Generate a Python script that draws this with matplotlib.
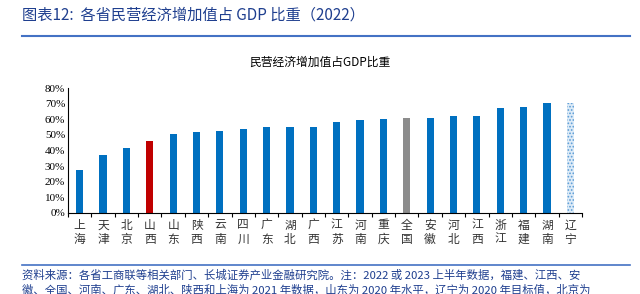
import matplotlib
import numpy as np

# import aliases
import matplotlib.pyplot as plt
from matplotlib.ticker import FixedLocator, PercentFormatter

plt.rcParams['font.family'] = ['Noto Sans CJK SC', 'DejaVu Sans']
plt.rcParams['hatch.linewidth'] = 0.8

provinces = ['上海', '天津', '北京', '山西', '山东', '陕西', '云南', '四川', '广东', '湖北', '广西',
             '江苏', '河南', '重庆', '全国', '安徽', '河北', '江西', '浙江', '福建', '湖南', '辽宁']
shares = [27.5, 37.0, 41.3, 46.3, 50.8, 51.6, 52.3, 53.6, 54.9, 54.9, 54.9,
          58.1, 59.4, 60.1, 60.5, 60.9, 61.8, 62.4, 67.3, 68.0, 70.1, 70.3]
highlight_red = ['山西']
highlight_gray = ['全国']
target_value = ['辽宁']

blue = '#0070C0'
header_blue = '#1F3F8F'

fig = plt.figure(figsize=(6.4, 2.94), dpi=100)
ax = fig.add_axes([68 / 640, 1 - 213 / 294, 514 / 640, 125 / 294])

x = np.arange(len(provinces))
for i, (name, v) in enumerate(zip(provinces, shares)):
    if name in highlight_red:
        ax.bar(i, v, width=0.31, color='#C00000')
    elif name in highlight_gray:
        ax.bar(i, v, width=0.31, color='#8C8C8C')
    elif name in target_value:
        ax.bar(i, v, width=0.31, facecolor='#DDEBF7', edgecolor='#5B9BD5',
               hatch='.....', linewidth=0)
    else:
        ax.bar(i, v, width=0.31, color=blue)

ax.set_xlim(-0.5, len(provinces) - 0.5)
ax.set_ylim(0, 80)
ax.set_yticks(np.arange(0, 81, 10))
ax.yaxis.set_major_formatter(PercentFormatter(decimals=0))
for lab in ax.get_yticklabels():
    lab.set_fontfamily('Liberation Serif')
    lab.set_fontsize(8)
ax.tick_params(axis='y', length=0, pad=2)

ax.set_xticks(x)
ax.set_xticklabels(['\n'.join(p) for p in provinces], fontsize=8.5, color='#333333',
                   linespacing=1.1)
ax.xaxis.set_minor_locator(FixedLocator(np.arange(-0.5, len(provinces), 1)))
ax.tick_params(axis='x', which='major', length=0, pad=4)
ax.tick_params(axis='x', which='minor', length=3, width=0.8, direction='out')

for side in ['top', 'right']:
    ax.spines[side].set_visible(False)
ax.spines['left'].set_linewidth(0.8)
ax.spines['bottom'].set_linewidth(0.8)

fig.text(0.5, 1 - 62 / 294, '民营经济增加值占GDP比重', ha='center', va='center', fontsize=8.5)

# header and footer
fig.text(22 / 640, 1 - 15 / 294, '图表12:  各省民营经济增加值占 GDP 比重（2022）',
         ha='left', va='center', fontsize=11, color=header_blue)
fig.add_artist(plt.Line2D([22 / 640, 630 / 640], [1 - 36 / 294] * 2, color='#4472C4', lw=1.5))
fig.add_artist(plt.Line2D([22 / 640, 630 / 640], [1 - 265 / 294] * 2, color='#4472C4', lw=1.2))
fig.text(22 / 640, 1 - 275 / 294,
         '资料来源：各省工商联等相关部门、长城证券产业金融研究院。注：2022 或 2023 上半年数据，福建、江西、安',
         ha='left', va='center', fontsize=8.2, color=header_blue)
fig.text(22 / 640, 1 - 290 / 294,
         '徽、全国、河南、广东、湖北、陕西和上海为 2021 年数据，山东为 2020 年水平，辽宁为 2020 年目标值，北京为',
         ha='left', va='center', fontsize=8.2, color=header_blue)

fig.savefig('out.png', dpi=100)
